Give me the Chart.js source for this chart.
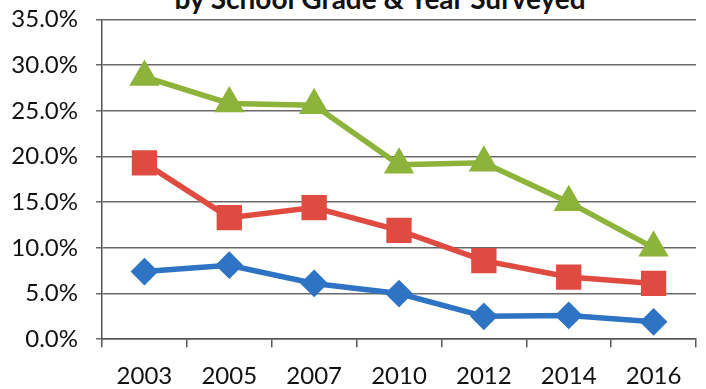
<!DOCTYPE html>
<html>
<head>
<meta charset="utf-8">
<script src="https://cdn.jsdelivr.net/npm/chart.js@4/dist/chart.umd.min.js"></script>
<style>
  html, body { margin: 0; padding: 0; background: #fff; overflow: hidden; }
  #wrap { position: relative; width: 706px; height: 389px; overflow: hidden; }
  #title {
    position: absolute; left: 0; top: -16px; width: 760px;
    text-align: center; font: bold 28px Lato, sans-serif; line-height: 28px;
    color: #111; white-space: nowrap;
  }
  canvas { position: absolute; left: 0; top: -13px; }
</style>
</head>
<body>
<div id="wrap">
  <div id="title">by School Grade &amp; Year Surveyed</div>
  <canvas id="chart" width="706" height="419"></canvas>
</div>
<script>
// Годы опроса
const years = ['2003', '2005', '2007', '2010', '2012', '2014', '2016'];

// Доля по классам, %
const grade6 = [7.4, 8.1, 6.1, 5.0, 2.5, 2.6, 1.9];
const grade8 = [19.3, 13.3, 14.4, 11.9, 8.6, 6.8, 6.1];
const grade10 = [28.7, 25.8, 25.6, 19.1, 19.3, 15.0, 10.0];

const seriesNames = ['6th Grade', '8th Grade', '10th Grade'];

const tickFont = { family: 'Lato', size: 24 };

function createTrendChart(containerId) {
    const ctx = document.getElementById(containerId).getContext('2d');
    new Chart(ctx, {
        type: 'line',
        data: {
            labels: years,
            datasets: [{
                label: seriesNames[0],
                data: grade6,
                borderColor: '#2F74C4',
                backgroundColor: '#2F74C4',
                borderWidth: 5.5,
                pointStyle: 'rectRot',
                pointRadius: 10
            }, {
                label: seriesNames[1],
                data: grade8,
                borderColor: '#DF4B40',
                backgroundColor: '#DF4B40',
                borderWidth: 5.5,
                pointStyle: 'rect',
                pointRadius: 14
            }, {
                label: seriesNames[2],
                data: grade10,
                borderColor: '#8DB33B',
                backgroundColor: '#8DB33B',
                borderWidth: 5.5,
                pointStyle: 'triangle',
                pointRadius: 12
            }]
        },
        options: {
            responsive: false,
            animation: false,
            layout: {
                autoPadding: false,
                padding: { left: 2, right: 10, top: 32, bottom: 0 }
            },
            plugins: {
                legend: { display: false },
                tooltip: { enabled: false }
            },
            scales: {
                x: {
                    offset: true,
                    grid: {
                        offset: true,
                        drawOnChartArea: false,
                        color: '#555',
                        lineWidth: 1.5,
                        tickLength: 8
                    },
                    border: { color: '#555', width: 1.5 },
                    ticks: {
                        color: '#111',
                        font: tickFont,
                        padding: 15,
                        maxRotation: 0
                    }
                },
                y: {
                    min: 0,
                    max: 35,
                    afterFit: function(scale) {
                        scale.width = 100;
                    },
                    grid: {
                        color: '#6a6a6a',
                        lineWidth: 1.5,
                        tickLength: 6
                    },
                    border: { color: '#555', width: 1.5 },
                    ticks: {
                        stepSize: 5,
                        color: '#111',
                        font: tickFont,
                        padding: 18,
                        callback: function(value) {
                            return value.toFixed(1) + '%';
                        }
                    }
                }
            }
        }
    });
}

createTrendChart('chart');
</script>
</body>
</html>
